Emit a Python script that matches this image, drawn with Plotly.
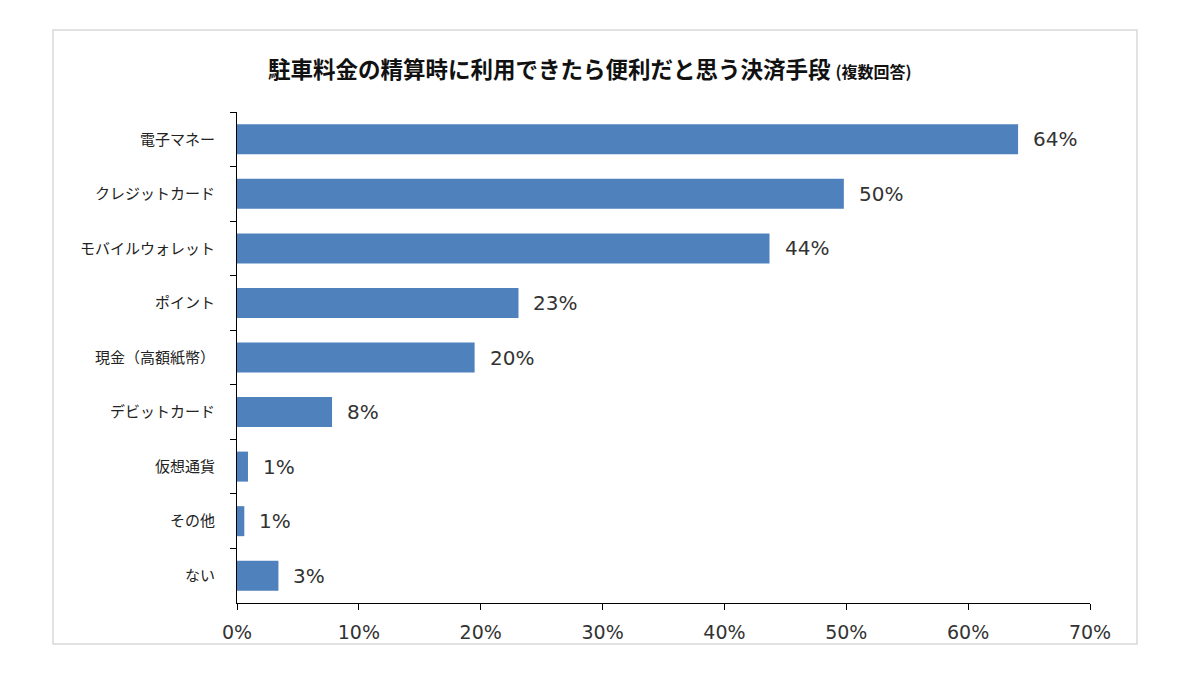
import plotly.graph_objects as go

categories = ["電子マネー", "クレジットカード", "モバイルウォレット", "ポイント",
              "現金（高額紙幣）", "デビットカード", "仮想通貨", "その他", "ない"]
values = [64.1, 49.8, 43.7, 23.1, 19.5, 7.8, 0.9, 0.6, 3.4]
value_labels = ["64%", "50%", "44%", "23%", "20%", "8%", "1%", "1%", "3%"]
x_tick_values = [0, 10, 20, 30, 40, 50, 60, 70]
x_tick_labels = ["0%", "10%", "20%", "30%", "40%", "50%", "60%", "70%"]
title_main = "駐車料金の精算時に利用できたら便利だと思う決済手段"
title_sub = "(複数回答)"

FONT = "DejaVu Sans, Noto Sans CJK JP, sans-serif"
JFONT = "Noto Sans CJK JP, sans-serif"
BAR = "#4F81BD"
TXT = "#333333"

fig = go.Figure()
fig.add_trace(go.Bar(
    y=categories, x=values, orientation="h",
    marker=dict(color=BAR, line=dict(width=0)),
    hoverinfo="skip",
))

annotations = []
for c, v, lab in zip(categories, values, value_labels):
    annotations.append(dict(x=v, y=c, xref="x", yref="y", text=lab, showarrow=False,
                            xanchor="left", yanchor="middle", xshift=13,
                            font=dict(family=FONT, size=20, color=TXT)))

annotations.append(dict(
    x=0.4138, y=1.0896, xref="paper", yref="paper", showarrow=False,
    xanchor="center", yanchor="middle",
    text=f"<b>{title_main}</b> <b><span style='font-size:16px'>{title_sub}</span></b>",
    font=dict(family=JFONT, size=22.5, color="#111111"),
))

fig.update_layout(
    width=1200, height=677,
    margin=dict(l=229, r=118, t=104, b=82),
    paper_bgcolor="white", plot_bgcolor="white",
    showlegend=False,
    bargap=0.45,
    annotations=annotations,
    shapes=[dict(type="rect", xref="paper", yref="paper",
                 x0=-0.2157, x1=1.0551, y0=-0.0835, y1=1.167,
                 line=dict(color="#D9D9D9", width=1.5), fillcolor="rgba(0,0,0,0)",
                 layer="below")],
)

fig.update_xaxes(
    range=[0, 70], tickvals=x_tick_values, ticktext=x_tick_labels,
    showgrid=False, zeroline=False,
    showline=True, linecolor="#000000", linewidth=1.2,
    ticks="outside", ticklen=6, tickcolor="#000000", tickwidth=1.2,
    ticklabelstandoff=6,
    tickfont=dict(family=FONT, size=19, color=TXT),
)
fig.update_yaxes(
    autorange="reversed", type="category",
    showgrid=False, zeroline=False,
    showline=True, linecolor="#000000", linewidth=1.2,
    ticks="outside", ticklen=6, tickcolor="#000000", tickwidth=1.2,
    tickson="boundaries", ticklabelstandoff=18,
    tickfont=dict(family=JFONT, size=15, color="#222222"),
)

fig.write_html("out.html")
